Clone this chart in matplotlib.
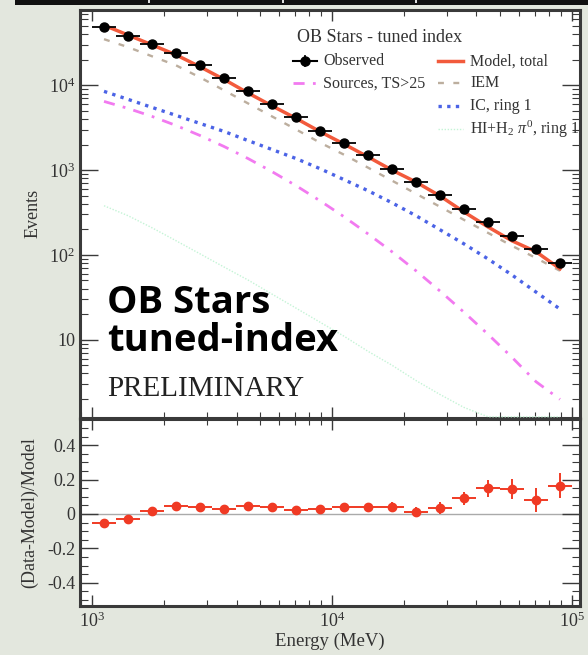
import numpy as np
import matplotlib
matplotlib.use("Agg")
import matplotlib.pyplot as plt
from matplotlib.lines import Line2D
from matplotlib.patches import Rectangle
from matplotlib.ticker import LogLocator, FixedLocator, FixedFormatter, MultipleLocator, NullFormatter

plt.rcParams['font.family'] = ['Liberation Serif', 'DejaVu Serif']
plt.rcParams['mathtext.fontset'] = 'custom'
plt.rcParams['mathtext.rm'] = 'Liberation Serif'
plt.rcParams['mathtext.it'] = 'Liberation Serif:italic'

# ---- data: counts per energy bin (20 log bins, 1-100 GeV) ----
energy = [1122, 1413, 1778, 2239, 2818, 3548, 4467, 5623, 7079, 8913,
          11220, 14125, 17783, 22387, 28184, 35481, 44668, 56234, 70795, 89125]
bin_lo = [1000, 1259, 1585, 1995, 2512, 3162, 3981, 5012, 6310, 7943,
          10000, 12589, 15849, 19953, 25119, 31623, 39811, 50119, 63096, 79433]
bin_hi = [1259, 1585, 1995, 2512, 3162, 3981, 5012, 6310, 7943, 10000,
          12589, 15849, 19953, 25119, 31623, 39811, 50119, 63096, 79433, 100000]
observed = [48500, 38000, 30600, 23900, 17200, 12100, 8490, 5960, 4180, 2930,
            2110, 1490, 1040, 731, 513, 350, 246, 168, 118, 80]
residual = [-0.05, -0.03, 0.02, 0.045, 0.04, 0.03, 0.045, 0.04, 0.025, 0.03,
            0.04, 0.04, 0.04, 0.01, 0.035, 0.09, 0.15, 0.145, 0.08, 0.165]
residual_err = [0.010, 0.010, 0.012, 0.012, 0.013, 0.014, 0.015, 0.016, 0.017, 0.019,
                0.021, 0.024, 0.027, 0.030, 0.034, 0.040, 0.050, 0.060, 0.070, 0.075]
iem = [35000, 28200, 22000, 17200, 12400, 8730, 6120, 4300, 3020, 2110,
       1520, 1070, 752, 527, 370, 259, 182, 128, 92, 65]
sources = [6460, 5340, 4300, 3360, 2560, 1900, 1370, 960, 656, 435,
           282, 177, 109, 65, 37.5, 21.1, 11.6, 6.2, 3.2, 1.98]
ic_ring1 = [8490, 6830, 5490, 4420, 3550, 2860, 2230, 1750, 1370, 1040,
            772, 572, 412, 290, 198, 135, 89.7, 58, 36.5, 23]
pi0_ring1 = [380, 290, 209, 147, 103, 72, 50.6, 34.5, 23.6, 16.1,
             11.0, 7.3, 5.0, 3.3, 2.26, 1.59, 1.1, 0.75, 0.5, 0.35]

energy = np.array(energy, float)
observed = np.array(observed, float)
residual = np.array(residual, float)
model_total = observed / (1.0 + residual)
xerr = np.array([energy - np.array(bin_lo), np.array(bin_hi) - energy])

W, H = 588, 655
fig = plt.figure(figsize=(W / 100, H / 100), dpi=100)
fig.patch.set_facecolor('#e3e7de')

# table border strip along the top edge
fig.patches.append(Rectangle((15 / W, 1 - 5 / H), 1 - 15 / W, 5 / H, transform=fig.transFigure,
                             facecolor='#111111', edgecolor='none'))
for xs in (148, 282, 415):
    fig.patches.append(Rectangle((xs / W, 1 - 3 / H), 2 / W, 3 / H, transform=fig.transFigure,
                                 facecolor='#dddddd', edgecolor='none'))

L, R = 80 / W, 580 / W
ax = fig.add_axes([L, 1 - 417.5 / H, R - L, (417.5 - 10) / H])
axr = fig.add_axes([L, 1 - 606 / H, R - L, (606 - 418.5) / H])

frame = '#3a3a3a'
XLIM = (891, 108000)
for a in (ax, axr):
    a.set_facecolor('white')
    a.set_xscale('log')
    a.set_xlim(*XLIM)
    for s in a.spines.values():
        s.set_color(frame)
        s.set_linewidth(2.2)
    a.tick_params(which='both', direction='in', top=True, right=True, colors=frame,
                  labelcolor='#333333', labelsize=13)
    a.tick_params(axis='x', which='major', length=8, width=1.0, pad=4)
    a.tick_params(axis='x', which='minor', length=4, width=0.8)
    a.tick_params(axis='y', which='major', length=13, width=1.0)
    a.tick_params(axis='y', which='minor', length=6, width=0.8)
    a.xaxis.set_major_locator(FixedLocator([1e3, 1e4, 1e5]))
    a.xaxis.set_minor_locator(LogLocator(base=10, subs=np.arange(2, 10), numticks=20))
    a.xaxis.set_minor_formatter(NullFormatter())

# ---- top panel: counts spectrum ----
ax.set_yscale('log')
YLIM = (1.21, 77300)
ax.set_ylim(*YLIM)
ax.yaxis.set_major_locator(FixedLocator([10, 100, 1000, 10000]))
ax.yaxis.set_major_formatter(FixedFormatter(['10', r'$10^{2}$', r'$10^{3}$', r'$10^{4}$']))
ax.yaxis.set_minor_locator(LogLocator(base=10, subs=np.arange(2, 10), numticks=20))
ax.yaxis.set_minor_formatter(NullFormatter())
ax.xaxis.set_major_formatter(NullFormatter())
ax.set_ylabel('Events', fontsize=13, color='#333333', labelpad=5)

c_model = '#f25a3c'
c_iem = '#bcae9e'
c_src = '#f27af0'
c_ic = '#4b63e6'
c_pi0 = '#c4f4d6'

ax.plot(energy, np.maximum(pi0_ring1, YLIM[0] * 1.02), color=c_pi0, lw=1.0,
        ls=(0, (1, 1.2)), zorder=3, clip_on=False)
ax.plot(energy, sources, color=c_src, lw=2.0, ls=(0, (4, 3, 1, 3)), zorder=3)
ax.plot(energy, ic_ring1, color=c_ic, lw=2.4, ls=(0, (1, 1.6)), zorder=3)
ax.plot(energy, iem, color=c_iem, lw=1.7, ls=(0, (2.5, 4)), zorder=3)
ax.plot(energy, model_total, color=c_model, lw=2.5, zorder=4)
ax.errorbar(energy, observed, xerr=xerr, yerr=np.sqrt(observed), fmt='o', color='black',
            ms=6.5, elinewidth=1.3, capsize=0, zorder=5)

# legend drawn by hand in axes coordinates
tr = ax.transAxes
ax.text(0.434, 0.933, 'OB Stars - tuned index', transform=tr, fontsize=13,
        color='#333333', va='center', ha='left')
rows = [0.874, 0.820, 0.764, 0.707]
legend_entries = [
    (0.426, 0.474, 0.486, rows[0], 'Observed', dict(color='black', lw=1.5)),
    (0.426, 0.474, 0.486, rows[1], 'Sources, TS>25', dict(color=c_src, lw=2.0, ls=(0, (4, 3, 1, 3)))),
    (0.716, 0.766, 0.780, rows[0], 'Model, total', dict(color=c_model, lw=2.5)),
    (0.716, 0.766, 0.780, rows[1], 'IEM', dict(color=c_iem, lw=1.7, ls=(0, (2.5, 4)))),
    (0.716, 0.766, 0.780, rows[2], 'IC, ring 1', dict(color=c_ic, lw=2.4, ls=(0, (1, 1.6)))),
    (0.716, 0.766, 0.780, rows[3], r'HI+H$_2$ $\pi^0$, ring 1', dict(color=c_pi0, lw=1.0, ls=(0, (1, 1.2)))),
]
for x0, x1, xt, yy, label, style in legend_entries:
    ax.add_line(Line2D([x0, x1], [yy, yy], transform=tr, zorder=6, **style))
    ax.text(xt, yy, label, transform=tr, fontsize=11.5, color='#333333', va='center', ha='left')
ax.add_line(Line2D([0.45], [rows[0]], transform=tr, marker='o', ms=6.5, color='black', zorder=6))
ax.add_line(Line2D([0.45, 0.45], [rows[0] - 0.012, rows[0] + 0.012], transform=tr,
                   color='black', lw=1.3, zorder=6))

ax.text(0.054, 0.256, 'OB Stars', transform=tr, fontsize=27.5, fontweight='bold',
        family=['Open Sans', 'DejaVu Sans'], color='black', va='baseline', ha='left')
ax.text(0.054, 0.163, 'tuned-index', transform=tr, fontsize=27.5, fontweight='bold',
        family=['Open Sans', 'DejaVu Sans'], color='black', va='baseline', ha='left')
ax.text(0.054, 0.052, 'PRELIMINARY', transform=tr, fontsize=21,
        color='#222222', va='baseline', ha='left')

# ---- bottom panel: fractional residuals ----
axr.set_ylim(-0.535, 0.555)
axr.yaxis.set_major_locator(FixedLocator([-0.4, -0.2, 0.0, 0.2, 0.4]))
axr.yaxis.set_major_formatter(FixedFormatter(['-0.4', '-0.2', '0', '0.2', '0.4']))
axr.yaxis.set_minor_locator(MultipleLocator(0.05))
axr.xaxis.set_major_formatter(FixedFormatter([r'$10^{3}$', r'$10^{4}$', r'$10^{5}$']))
axr.axhline(0, color='#aaaaaa', lw=1.0, zorder=1)
axr.errorbar(energy, residual, xerr=xerr, yerr=residual_err, fmt='o', color='#f03a24',
             ms=6, elinewidth=1.4, capsize=0, zorder=5)
axr.set_ylabel('(Data-Model)/Model', fontsize=13, color='#333333', labelpad=6)
axr.set_xlabel('Energy (MeV)', fontsize=13.5, color='#333333', labelpad=1)

fig.savefig('out.png', dpi=100, facecolor=fig.get_facecolor())
